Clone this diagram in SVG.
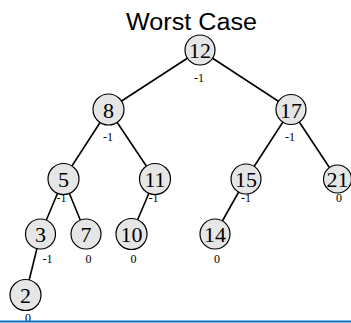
<svg xmlns="http://www.w3.org/2000/svg" width="351" height="323" viewBox="0 0 351 323">
<style>
.edge{stroke:#000;stroke-width:1.6;fill:none}
.node circle{fill:#e6e6e6;stroke:#000;stroke-width:1.2}
.num{font-family:"Liberation Serif","Times New Roman",serif;font-size:22px;text-anchor:middle;fill:#000}
.bal{font-family:"Liberation Serif","Times New Roman",serif;font-size:12px;text-anchor:middle;fill:#000}
.title{font-family:"Liberation Sans",Arial,sans-serif;font-size:23px;text-anchor:middle;fill:#000}
</style>
<rect width="351" height="323" fill="#fff"/>
<text class="title" x="191.5" y="30" textLength="131" lengthAdjust="spacingAndGlyphs">Worst Case</text>
<g id="connectors">
<line class="edge" x1="200" y1="50" x2="108.5" y2="109.5"/>
<line class="edge" x1="200" y1="50" x2="291" y2="109.5"/>
<line class="edge" x1="108.5" y1="109.5" x2="63.5" y2="179"/>
<line class="edge" x1="108.5" y1="109.5" x2="155" y2="179"/>
<line class="edge" x1="291" y1="109.5" x2="246" y2="179"/>
<line class="edge" x1="291" y1="109.5" x2="337" y2="179"/>
<line class="edge" x1="63.5" y1="179" x2="40.5" y2="234"/>
<line class="edge" x1="63.5" y1="179" x2="86" y2="234"/>
<line class="edge" x1="155" y1="179" x2="131.5" y2="234"/>
<line class="edge" x1="246" y1="179" x2="215" y2="234"/>
<line class="edge" x1="40.5" y1="234" x2="25.5" y2="295"/>
</g>
<g id="n12" class="node"><circle cx="200" cy="50" r="15"/><text class="num" x="200" y="58">12</text><text class="bal" x="199" y="82">-1</text></g>
<g id="n8" class="node"><circle cx="108.5" cy="109.5" r="15.5"/><text class="num" x="108.5" y="117.5">8</text><text class="bal" x="108" y="141">-1</text></g>
<g id="n17" class="node"><circle cx="291" cy="109.5" r="15"/><text class="num" x="291" y="117.5">17</text><text class="bal" x="290" y="141">-1</text></g>
<g id="n5" class="node"><circle cx="63.5" cy="179" r="15.5"/><text class="num" x="63.5" y="187">5</text><text class="bal" x="61.5" y="202">-1</text></g>
<g id="n11" class="node"><circle cx="155" cy="179" r="15.5"/><text class="num" x="155" y="187">11</text><text class="bal" x="153.5" y="202">-1</text></g>
<g id="n15" class="node"><circle cx="246" cy="179" r="15"/><text class="num" x="246" y="187">15</text><text class="bal" x="246" y="202">-1</text></g>
<g id="n21" class="node"><circle cx="337.5" cy="179" r="14"/><text class="num" x="337.5" y="187">21</text><text class="bal" x="339" y="202">0</text></g>
<g id="n3" class="node"><circle cx="40.5" cy="234" r="15"/><text class="num" x="40.5" y="242">3</text><text class="bal" x="47.5" y="263">-1</text></g>
<g id="n7" class="node"><circle cx="86" cy="234" r="15"/><text class="num" x="86" y="242">7</text><text class="bal" x="88.5" y="263">0</text></g>
<g id="n10" class="node"><circle cx="131.5" cy="234" r="15.5"/><text class="num" x="131.5" y="242">10</text><text class="bal" x="133.5" y="263">0</text></g>
<g id="n14" class="node"><circle cx="215" cy="234" r="15"/><text class="num" x="215" y="242">14</text><text class="bal" x="217" y="263">0</text></g>
<g id="n2" class="node"><circle cx="25.5" cy="295" r="15.5"/><text class="num" x="25.5" y="303">2</text><text class="bal" x="28" y="321.5">0</text></g>
<line x1="0" y1="321.5" x2="351" y2="321.5" stroke="#0a6fc2" stroke-width="2"/>
</svg>
